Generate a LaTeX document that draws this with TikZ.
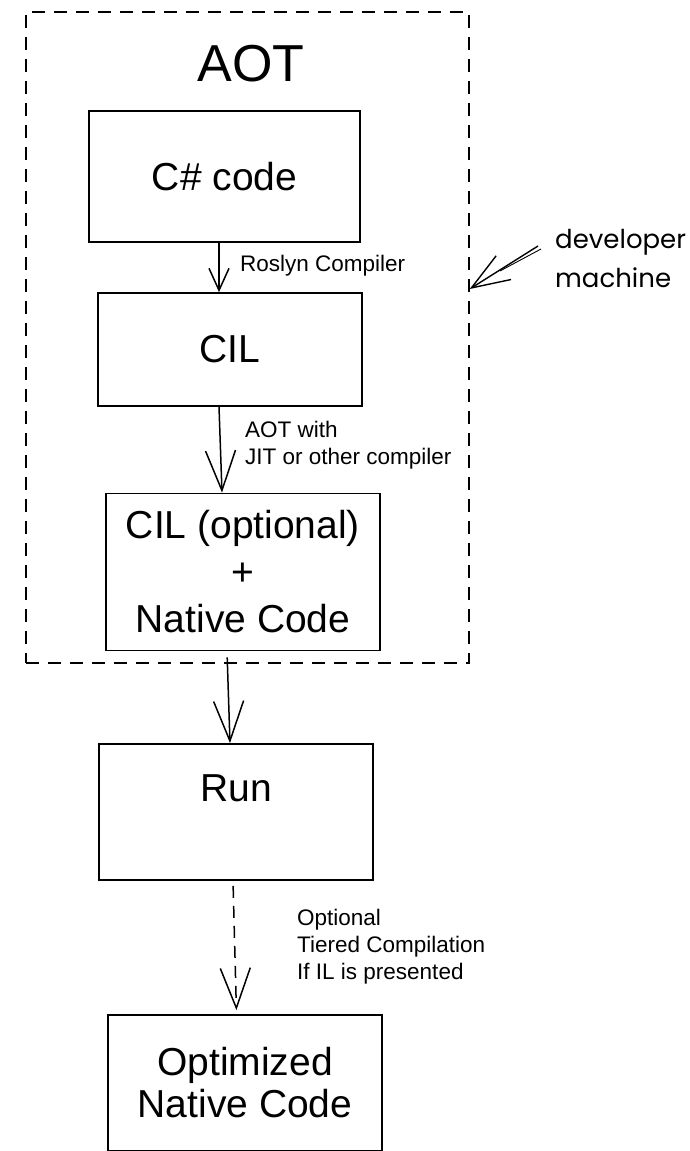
\documentclass[tikz,border=0pt]{standalone}
\usepackage{fontspec}
\setmainfont{Liberation Sans}
\newfontfamily\handfont{Poppins}
\usetikzlibrary{arrows.meta,calc}
\begin{document}
\begin{tikzpicture}[x=1pt,y=-1pt,
  stage/.style={draw=black, line width=1.7pt, inner sep=0pt, align=center,
    font=\fontsize{39}{47}\selectfont},
  note/.style={font=\fontsize{22.5}{27}\selectfont, align=left, inner sep=0pt},
  framebox/.style={draw=black, line width=1.4pt, dash pattern=on 13pt off 9pt,
    inner sep=0pt},
  flow/.style={line width=1.5pt, -{Straight Barb[length=40pt,width=30pt]}},
  smallflow/.style={line width=1.5pt, -{Straight Barb[length=22pt,width=20pt]}},
  hand/.style={font=\handfont\fontsize{26}{30}\selectfont, inner sep=0pt}
]
\useasboundingbox (0,0) rectangle (690,1151);
\fill[white] (0,0) rectangle (690,1151);

% developer machine frame
\node[framebox, minimum width=443pt, minimum height=651pt] (devbox) at (247.5,337.5) {};
\node[font=\fontsize{52}{60}\selectfont, inner sep=0pt] (aot) at (251,64) {AOT};

% stages
\node[stage, minimum width=271pt, minimum height=131pt] (csharp) at (224.5,176.5) {C\# code};
\node[stage, minimum width=264pt, minimum height=113pt] (cil) at (230,349.5) {CIL};
\node[stage, minimum width=274pt, minimum height=157pt] (cilnat) at (243,572)
  {CIL (optional)\\+\\Native Code};
\node[stage, minimum width=274pt, minimum height=136pt] (run) at (236,812) {};
\node[font=\fontsize{39}{47}\selectfont, inner sep=0pt] (runtext) at (236,788) {Run};
\node[stage, minimum width=274pt, minimum height=136pt,
  font=\fontsize{39}{42}\selectfont] (opt) at (245,1083) {Optimized\\Native Code};

% x positions of the connectors
\coordinate (xa) at (219,0);
\coordinate (xb) at (222,0);
\coordinate (xc) at (227,0);
\coordinate (xd) at (230,0);
\coordinate (xe) at (233,0);
\coordinate (xf) at (236.5,0);

\draw[smallflow] (csharp.south -| xa) -- (cil.north -| xa);
\draw[flow] (cil.south -| xa) -- (cilnat.north -| xb);
\draw[flow, shorten <=6pt] (cilnat.south -| xc) -- (run.north -| xd);
\draw[flow, dash pattern=on 12pt off 8pt, shorten <=5pt, shorten >=4pt]
  (run.south -| xe) -- (opt.north -| xf);

% connector labels
\node[note, anchor=west] (lroslyn) at (240,266) {Roslyn Compiler};
\node[note, anchor=west] (laot) at (245,445.5) {AOT with\\JIT or other compiler};
\node[note, anchor=west] (ltier) at (297,946.5) {Optional\\Tiered Compilation\\If IL is presented};

% developer machine pointer
\coordinate (ytip) at (0,289);
\coordinate (devtail) at (538,246);
\coordinate (devtail2) at (541,249);
\coordinate (devmid) at (500,271);
\draw[line width=1.4pt, -{Straight Barb[length=38pt,width=28pt]}] (devtail) -- (devbox.east |- ytip);
\draw[line width=0.9pt] (devtail2) -- (devmid);
\node[hand, anchor=base west] (dev1) at (555,248) {developer};
\node[hand, anchor=base west] (dev2) at (555,287) {machine};
\end{tikzpicture}
\end{document}
